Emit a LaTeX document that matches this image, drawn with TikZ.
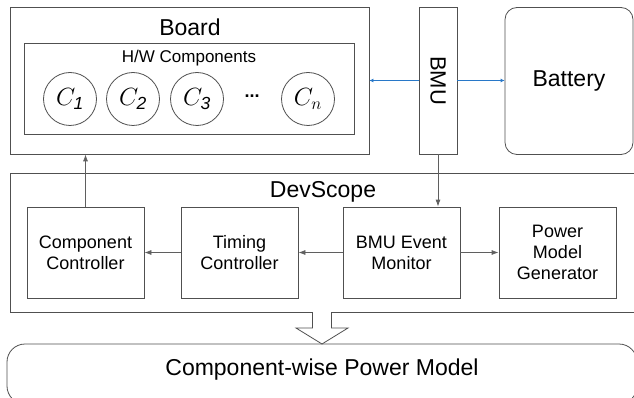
\documentclass[tikz,border=0pt]{standalone}
\usepackage{fontspec}
\setmainfont{Liberation Sans}
\usetikzlibrary{arrows.meta}

\definecolor{linegray}{RGB}{80,80,80}
\definecolor{arrowgray}{RGB}{95,95,95}
\definecolor{busblue}{RGB}{40,120,200}

\begin{document}
\begin{tikzpicture}[x=1pt, y=-1pt,
  box/.style={draw=linegray, line width=0.8pt, inner sep=0pt, align=center,
    font=\fontsize{18}{21}\selectfont},
  comp/.style={draw=linegray, line width=0.8pt, circle, minimum size=53pt,
    inner sep=0pt, font=\fontsize{25}{25}\selectfont},
  title/.style={font=\fontsize{23}{23}\selectfont},
  flow/.style={arrowgray, line width=0.8pt, -{Latex[length=7pt,width=5pt]}},
  power/.style={busblue, line width=0.8pt, -{Latex[length=4pt,width=4pt]}},
]
\useasboundingbox (0,0) rectangle (634,398);
\clip (0,0) rectangle (634,398);

    % Board and its H/W components
    \node[box, minimum width=359pt, minimum height=147pt] (board) at (189.5,80.5) {};
    \node[title] (boardlabel) at (190,27) {Board};
    \node[box, minimum width=330pt, minimum height=91pt] (hw) at (189,88.5) {};
    \node[font=\fontsize{17}{17}\selectfont] (hwlabel) at (189,58) {H/W Components};
    \node[comp] (c1) at (70,99) {$C_{\mathit{1}}$};
    \node[comp] (c2) at (133,99) {$C_{\mathit{2}}$};
    \node[comp] (c3) at (197,99) {$C_{\mathit{3}}$};
    \node[font=\bfseries\fontsize{18}{18}\selectfont] (dots) at (252,96) {...};
    \node[comp] (cn) at (308,99) {$C_n$};

    % BMU and battery
    \node[box, minimum width=38pt, minimum height=147pt] (bmu) at (438,80.5) {};
    \node[rotate=-90, font=\fontsize{22}{22}\selectfont] (bmulabel) at (bmu) {BMU};
    \node[box, rounded corners=12pt, minimum width=128pt, minimum height=147pt,
      font=\fontsize{23}{23}\selectfont] (bat) at (569,81) {Battery};

    % DevScope
    \node[box, minimum width=640pt, minimum height=139pt] (devscope) at (330,242.5) {};
    \node[title] (devlabel) at (323,192) {DevScope};
    \node[box, minimum width=117pt, minimum height=91pt] (cc) at (85.5,252.5) {Component\\Controller};
    \node[box, minimum width=117pt, minimum height=91pt] (tc) at (239.5,252.5) {Timing\\Controller};
    \node[box, minimum width=117pt, minimum height=91pt] (bem) at (401.5,252.5) {BMU Event\\Monitor};
    \node[box, minimum width=117pt, minimum height=91pt] (pmg) at (557.5,252.5) {Power\\Model\\Generator};

    % Output model
    \node[box, rounded corners=18pt, minimum width=630pt, minimum height=60pt] (model) at (322,374) {};
    \node[title] (modellabel) at (322,370) {Component-wise Power Model};

    % Hollow arrow down to the model
    \draw[linegray, line width=0.8pt, fill=white]
      (312.5,312) -- (312.5,328) -- (296,328) -- (322,344) -- (348,328) -- (331.5,328) -- (331.5,312);

    % Connections
    \draw[power] (bmu.west) -- (board.east);
    \draw[power] (bmu.east) -- (bmu.east -| bat.west);
    \draw[flow] (bmu.south) -- (bmu.south |- bem.north);
    \draw[flow] (cc.north) -- (cc.north |- board.south);
    \draw[flow] (bem) -- (tc);
    \draw[flow] (tc) -- (cc);
    \draw[flow] (bem) -- (pmg);

\end{tikzpicture}
\end{document}
